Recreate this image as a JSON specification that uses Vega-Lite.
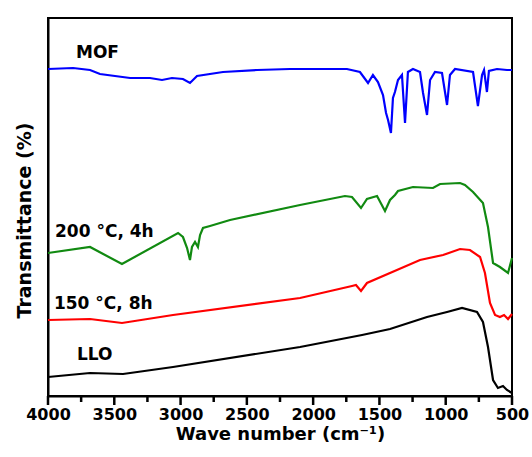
{
  "$schema": "https://vega.github.io/schema/vega-lite/v6.json",
  "autosize": "none",
  "width": 464,
  "height": 378,
  "padding": {"left": 48, "top": 18, "right": 20, "bottom": 61},
  "background": "white",
  "config": {
    "view": {"stroke": "black", "strokeWidth": 2},
    "axis": {
      "labelFont": "DejaVu Sans",
      "labelFontWeight": "bold",
      "labelFontSize": 16,
      "labelColor": "black",
      "titleFont": "DejaVu Sans",
      "titleFontWeight": "bold",
      "titleFontSize": 18,
      "titleColor": "black",
      "domainColor": "black",
      "domainWidth": 2,
      "grid": false
    }
  },
  "datasets": {
    "majorTicks": [{"wn": 500}, {"wn": 1000}, {"wn": 1500}, {"wn": 2000}, {"wn": 2500}, {"wn": 3000}, {"wn": 3500}, {"wn": 4000}],
    "minorTicks": [{"wn": 750}, {"wn": 1250}, {"wn": 1750}, {"wn": 2250}, {"wn": 2750}, {"wn": 3250}, {"wn": 3750}],
    "spectra": [
      {"series": "MOF", "wn": 4000, "t": 327}, {"series": "MOF", "wn": 3811, "t": 328}, {"series": "MOF", "wn": 3683, "t": 326}, {"series": "MOF", "wn": 3608, "t": 322}, {"series": "MOF", "wn": 3381, "t": 318}, {"series": "MOF", "wn": 3231, "t": 318}, {"series": "MOF", "wn": 3140, "t": 316}, {"series": "MOF", "wn": 3065, "t": 318}, {"series": "MOF", "wn": 2982, "t": 317}, {"series": "MOF", "wn": 2929, "t": 313}, {"series": "MOF", "wn": 2876, "t": 320}, {"series": "MOF", "wn": 2680, "t": 324}, {"series": "MOF", "wn": 2423, "t": 326}, {"series": "MOF", "wn": 2175, "t": 327}, {"series": "MOF", "wn": 1745, "t": 327}, {"series": "MOF", "wn": 1647, "t": 324}, {"series": "MOF", "wn": 1586, "t": 313}, {"series": "MOF", "wn": 1549, "t": 321}, {"series": "MOF", "wn": 1511, "t": 314}, {"series": "MOF", "wn": 1473, "t": 301}, {"series": "MOF", "wn": 1450, "t": 283}, {"series": "MOF", "wn": 1435, "t": 276}, {"series": "MOF", "wn": 1413, "t": 263}, {"series": "MOF", "wn": 1398, "t": 298}, {"series": "MOF", "wn": 1383, "t": 304}, {"series": "MOF", "wn": 1360, "t": 316}, {"series": "MOF", "wn": 1330, "t": 321}, {"series": "MOF", "wn": 1307, "t": 273}, {"series": "MOF", "wn": 1285, "t": 324}, {"series": "MOF", "wn": 1247, "t": 327}, {"series": "MOF", "wn": 1194, "t": 324}, {"series": "MOF", "wn": 1171, "t": 303}, {"series": "MOF", "wn": 1141, "t": 281}, {"series": "MOF", "wn": 1118, "t": 316}, {"series": "MOF", "wn": 1081, "t": 324}, {"series": "MOF", "wn": 1028, "t": 323}, {"series": "MOF", "wn": 990, "t": 291}, {"series": "MOF", "wn": 968, "t": 321}, {"series": "MOF", "wn": 930, "t": 327}, {"series": "MOF", "wn": 794, "t": 324}, {"series": "MOF", "wn": 757, "t": 290}, {"series": "MOF", "wn": 726, "t": 321}, {"series": "MOF", "wn": 711, "t": 326}, {"series": "MOF", "wn": 689, "t": 304}, {"series": "MOF", "wn": 674, "t": 325}, {"series": "MOF", "wn": 613, "t": 327}, {"series": "MOF", "wn": 538, "t": 326}, {"series": "MOF", "wn": 500, "t": 326},

      {"series": "200", "wn": 4000, "t": 143}, {"series": "200", "wn": 3683, "t": 149}, {"series": "200", "wn": 3442, "t": 132}, {"series": "200", "wn": 3019, "t": 163}, {"series": "200", "wn": 2982, "t": 159}, {"series": "200", "wn": 2951, "t": 148}, {"series": "200", "wn": 2929, "t": 136}, {"series": "200", "wn": 2914, "t": 149}, {"series": "200", "wn": 2891, "t": 154}, {"series": "200", "wn": 2869, "t": 149}, {"series": "200", "wn": 2853, "t": 161}, {"series": "200", "wn": 2831, "t": 168}, {"series": "200", "wn": 2778, "t": 170}, {"series": "200", "wn": 2627, "t": 176}, {"series": "200", "wn": 2099, "t": 191}, {"series": "200", "wn": 1760, "t": 200}, {"series": "200", "wn": 1707, "t": 199}, {"series": "200", "wn": 1639, "t": 188}, {"series": "200", "wn": 1594, "t": 197}, {"series": "200", "wn": 1518, "t": 200}, {"series": "200", "wn": 1458, "t": 185}, {"series": "200", "wn": 1420, "t": 196}, {"series": "200", "wn": 1383, "t": 201}, {"series": "200", "wn": 1360, "t": 205}, {"series": "200", "wn": 1247, "t": 209}, {"series": "200", "wn": 1096, "t": 208}, {"series": "200", "wn": 1043, "t": 212}, {"series": "200", "wn": 892, "t": 213}, {"series": "200", "wn": 855, "t": 211}, {"series": "200", "wn": 794, "t": 204}, {"series": "200", "wn": 719, "t": 193}, {"series": "200", "wn": 681, "t": 169}, {"series": "200", "wn": 643, "t": 133}, {"series": "200", "wn": 591, "t": 129}, {"series": "200", "wn": 530, "t": 123}, {"series": "200", "wn": 500, "t": 138},

      {"series": "150", "wn": 4000, "t": 76}, {"series": "150", "wn": 3683, "t": 77}, {"series": "150", "wn": 3442, "t": 73}, {"series": "150", "wn": 3057, "t": 81}, {"series": "150", "wn": 2099, "t": 98}, {"series": "150", "wn": 1707, "t": 110}, {"series": "150", "wn": 1677, "t": 111}, {"series": "150", "wn": 1639, "t": 105}, {"series": "150", "wn": 1594, "t": 113}, {"series": "150", "wn": 1368, "t": 126}, {"series": "150", "wn": 1194, "t": 136}, {"series": "150", "wn": 1020, "t": 141}, {"series": "150", "wn": 892, "t": 147}, {"series": "150", "wn": 817, "t": 146}, {"series": "150", "wn": 741, "t": 139}, {"series": "150", "wn": 704, "t": 123}, {"series": "150", "wn": 666, "t": 93}, {"series": "150", "wn": 628, "t": 81}, {"series": "150", "wn": 591, "t": 79}, {"series": "150", "wn": 560, "t": 81}, {"series": "150", "wn": 530, "t": 77}, {"series": "150", "wn": 500, "t": 82},

      {"series": "LLO", "wn": 4000, "t": 19}, {"series": "LLO", "wn": 3683, "t": 23}, {"series": "LLO", "wn": 3434, "t": 22}, {"series": "LLO", "wn": 3057, "t": 29}, {"series": "LLO", "wn": 2099, "t": 49}, {"series": "LLO", "wn": 1631, "t": 61}, {"series": "LLO", "wn": 1420, "t": 67}, {"series": "LLO", "wn": 1141, "t": 79}, {"series": "LLO", "wn": 990, "t": 84}, {"series": "LLO", "wn": 877, "t": 88}, {"series": "LLO", "wn": 764, "t": 84}, {"series": "LLO", "wn": 719, "t": 74}, {"series": "LLO", "wn": 681, "t": 49}, {"series": "LLO", "wn": 643, "t": 16}, {"series": "LLO", "wn": 606, "t": 8}, {"series": "LLO", "wn": 568, "t": 10}, {"series": "LLO", "wn": 538, "t": 6}, {"series": "LLO", "wn": 500, "t": 3}
    ],
    "labels": [
      {"label": "MOF", "wn": 3789, "t": 343},
      {"label": "200 °C, 4h", "wn": 3947, "t": 164},
      {"label": "150 °C, 8h", "wn": 3955, "t": 92},
      {"label": "LLO", "wn": 3781, "t": 41}
    ]
  },
  "layer": [
    {
      "data": {"name": "spectra"},
      "mark": {"type": "line", "strokeWidth": 2.2},
      "encoding": {
        "x": {
          "field": "wn", "type": "quantitative",
          "scale": {"domain": [500, 4000], "reverse": true, "nice": false, "zero": false},
          "axis": {
            "orient": "bottom",
            "ticks": false,
            "values": [500, 1000, 1500, 2000, 2500, 3000, 3500, 4000],
            "format": "d",
            "labelPadding": 10,
            "labelFlush": false,
            "labelOverlap": false,
            "title": "Wave number (cm⁻¹)",
            "titlePadding": 3
          }
        },
        "y": {
          "field": "t", "type": "quantitative",
          "scale": {"domain": [0, 378], "nice": false, "zero": false},
          "axis": {
            "labels": false,
            "ticks": false,
            "title": "Transmittance (%)",
            "titleFontSize": 19,
            "titlePadding": 14,
            "titleY": 202
          }
        },
        "color": {
          "field": "series", "type": "nominal",
          "scale": {"domain": ["MOF", "200", "150", "LLO"], "range": ["#0000ff", "#118a11", "#ff0000", "#000000"]},
          "legend": null
        },
        "detail": {"field": "series"}
      }
    },
    {
      "data": {"name": "majorTicks"},
      "mark": {"type": "rule", "color": "black", "strokeWidth": 2.5, "clip": false},
      "encoding": {
        "x": {"field": "wn", "type": "quantitative"},
        "y": {"datum": 0},
        "y2": {"datum": -9}
      }
    },
    {
      "data": {"name": "minorTicks"},
      "mark": {"type": "rule", "color": "black", "strokeWidth": 2.5, "clip": false},
      "encoding": {
        "x": {"field": "wn", "type": "quantitative"},
        "y": {"datum": 0},
        "y2": {"datum": -6}
      }
    },
    {
      "data": {"name": "labels"},
      "mark": {"type": "text", "align": "left", "baseline": "middle", "font": "DejaVu Sans", "fontWeight": "bold", "fontSize": 17, "color": "black"},
      "encoding": {
        "x": {"field": "wn", "type": "quantitative"},
        "y": {"field": "t", "type": "quantitative"},
        "text": {"field": "label"}
      }
    }
  ]
}
